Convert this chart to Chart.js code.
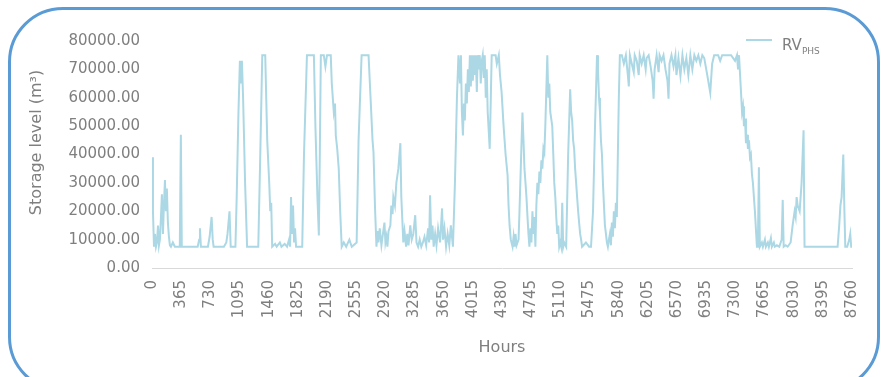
<!DOCTYPE html>
<html>
<head>
<meta charset="utf-8">
<script src="https://cdn.jsdelivr.net/npm/chart.js@4.4.1/dist/chart.umd.min.js"></script>
<style>
  html, body { margin: 0; padding: 0; background: #fff; }
  #wrap { position: relative; width: 882px; height: 377px; overflow: hidden; }
  #frame {
    position: absolute; left: 8px; top: 7px; width: 872px; height: 385px;
    box-sizing: border-box; border: 3px solid #5b9bd5; border-radius: 55px;
    pointer-events: none;
  }
  #chart { position: absolute; left: 0; top: 0; }
  #legend {
    position: absolute; left: 746px; top: 36px;
    font-family: "DejaVu Sans", sans-serif; color: #7f7f7f; font-size: 15px;
  }
  #legend .swatch {
    display: inline-block; width: 26px; height: 0; border-top: 2px solid #abd8e4;
    vertical-align: middle; margin-right: 10px; position: relative; top: -6px;
  }
  #legend sub { font-size: 9px; }
</style>
</head>
<body>
<div id="wrap">
  <canvas id="chart" width="882" height="377"></canvas>
  <div id="frame"></div>
  <div id="legend"><span class="swatch"></span>RV<sub>PHS</sub></div>
</div>
<script>
// hourly storage level (hour, m3)
const hours = [
  0, 12, 25, 37, 50, 62, 75, 87, 99, 112, 124, 137, 149, 162, 174, 186, 199, 212, 224, 237,
  261, 286, 348, 361, 373, 572, 590, 600, 612, 700, 721, 746, 760, 771, 900, 930, 945, 970, 985,
  1044, 1060, 1082, 1100, 1112, 1125, 1140, 1165, 1190, 1330, 1355, 1380, 1417, 1442, 1467, 1480,
  1492, 1504, 1540, 1560, 1600, 1620, 1660, 1690, 1715, 1728, 1740, 1752, 1765, 1778, 1790, 1803,
  1880, 1902, 1939, 2026, 2045, 2070, 2088, 2100, 2113, 2150, 2170, 2190, 2237, 2250, 2275, 2290,
  2300, 2318, 2337, 2355, 2374, 2400, 2430, 2470, 2500, 2561, 2585, 2623, 2710, 2735, 2760, 2772,
  2790, 2809, 2822, 2834, 2850, 2871, 2890, 2909, 2921, 2934, 2946, 2960, 2983, 2995, 3010, 3020,
  3040, 3058, 3083, 3108, 3120, 3132, 3145, 3160, 3180, 3195, 3210, 3232, 3250, 3270, 3294, 3310,
  3330, 3350, 3370, 3390, 3410, 3431, 3455, 3468, 3480, 3495, 3510, 3525, 3543, 3560, 3580, 3605,
  3630, 3642, 3660, 3680, 3700, 3720, 3740, 3766, 3791, 3816, 3835, 3854, 3866, 3878, 3891, 3903,
  3915, 3928, 3940, 3953, 3965, 3978, 3990, 4003, 4015, 4028, 4040, 4052, 4065, 4077, 4089, 4102,
  4114, 4127, 4139, 4152, 4164, 4177, 4189, 4201, 4226, 4240, 4251, 4300, 4315, 4340, 4355, 4375,
  4400, 4425, 4450, 4462, 4475, 4490, 4512, 4525, 4537, 4549, 4562, 4587, 4599, 4620, 4636, 4649,
  4661, 4674, 4686, 4699, 4711, 4723, 4736, 4748, 4761, 4773, 4786, 4798, 4810, 4823, 4835, 4848,
  4860, 4873, 4885, 4898, 4910, 4922, 4947, 4960, 4972, 4984, 5009, 5022, 5034, 5047, 5059, 5072,
  5084, 5096, 5109, 5121, 5134, 5146, 5158, 5183, 5208, 5233, 5245, 5258, 5270, 5283, 5295, 5308,
  5320, 5333, 5345, 5358, 5370, 5382, 5430, 5470, 5494, 5519, 5544, 5569, 5581, 5594, 5606, 5618,
  5631, 5643, 5656, 5668, 5681, 5693, 5705, 5718, 5730, 5743, 5755, 5768, 5780, 5793, 5805, 5817,
  5830, 5842, 5855, 5880, 5905, 5930, 5955, 5967, 5980, 6004, 6029, 6041, 6066, 6091, 6103, 6128,
  6153, 6178, 6190, 6215, 6240, 6265, 6277, 6290, 6315, 6340, 6352, 6377, 6401, 6426, 6451, 6464,
  6476, 6501, 6526, 6550, 6563, 6588, 6613, 6638, 6662, 6687, 6712, 6737, 6762, 6787, 6812, 6837,
  6862, 6887, 6911, 6936, 6961, 6986, 7010, 7035, 7085, 7110, 7135, 7209, 7247, 7296, 7321, 7334,
  7346, 7371, 7384, 7396, 7408, 7421, 7433, 7446, 7458, 7471, 7483, 7495, 7508, 7520, 7545, 7570,
  7582, 7595, 7607, 7632, 7645, 7670, 7682, 7707, 7720, 7745, 7757, 7782, 7794, 7820, 7850, 7880,
  7893, 7905, 7930, 7955, 7992, 8017, 8042, 8055, 8067, 8080, 8105, 8129, 8154, 8166, 8179, 8580,
  8600, 8615, 8630, 8651, 8665, 8676, 8700, 8726, 8738, 8750, 8760
];
const level = [
  39000, 20000, 7500, 12000, 7500, 9000, 15000, 8000, 10000, 18000, 26000, 12000, 22000, 31000, 20000, 28000, 16000, 11000, 8000, 7500,
  9000, 7500, 7500, 47000, 7500, 7500, 10000, 14000, 7500, 7500, 11000, 18000, 10000, 7500, 7500, 9000, 12000, 20000, 7500,
  7500, 25000, 55000, 73000, 65000, 73000, 60000, 30000, 7500, 7500, 40000, 75000, 75000, 45000, 30000, 20000,
  23000, 7500, 8500, 7500, 9000, 7500, 8500, 7500, 10000, 7500, 25000, 12000, 22000, 9000, 14000, 7500,
  7500, 40000, 75000, 75000, 50000, 25000, 11500, 40000, 75000, 75000, 71000, 75000, 75000, 65000, 55000, 58000,
  46700, 42000, 35000, 20000, 7500, 9000, 7500, 10000, 7500, 9000, 45000, 75000, 75000, 60000, 45000, 40700,
  22000, 7500, 13000, 9000, 14000, 8000, 12000, 16000, 9000, 11000, 7500, 13000, 15000, 22000, 19000, 25000,
  22000, 30000, 35000, 44000, 25000, 17500, 9000, 13000, 7500, 12000, 8000, 15000, 10000, 12000, 18600, 9000,
  7500, 10000, 7500, 9000, 11000, 8000, 14000, 9000, 25600, 10000, 15000, 7500, 12000, 8000, 14000, 9000,
  21000, 10000, 14000, 7500, 12000, 8000, 15000, 7500, 30000, 60000, 75000, 65000, 75000, 55000, 46700, 58000,
  52000, 65000, 58000, 70000, 62000, 75000, 64000, 75000, 66000, 75000, 68000, 75000, 62000, 75000, 70000, 75000,
  65000, 73000, 75000, 67000, 75000, 60000, 70000, 55000, 42000, 60000, 75000, 75000, 72000, 75000, 68000, 62000,
  50000, 40000, 32600, 22000, 15000, 10000, 7500, 11000, 7500, 12000, 8000, 10000, 20000, 40000, 54800, 45000,
  35000, 30000, 25000, 18000, 12000, 7500, 14000, 9000, 20000, 12000, 18000, 7500, 22000, 30000, 26000, 34000,
  30000, 38000, 35000, 42000, 40700, 50000, 75000, 60000, 65000, 55000, 50000, 40000, 30000, 25000, 18000, 12000,
  15000, 7500, 9000, 7500, 23000, 7500, 9000, 7500, 40000, 63000, 55000, 52000, 45000, 42000, 35000, 30000,
  25000, 20000, 16000, 12000, 10000, 7500, 9000, 7500, 7500, 20000, 50000, 75000, 70000, 60000, 55000, 45000,
  40000, 30000, 22000, 15000, 12000, 9000, 7500, 10000, 12000, 8000, 16000, 11000, 20000, 14000, 23000, 18000,
  40000, 60000, 75000, 75000, 72000, 75000, 68000, 64000, 75000, 72000, 69000, 75000, 73000, 68000, 75000, 72000,
  75000, 70000, 74000, 75000, 71000, 66000, 59700, 70000, 75000, 69000, 75000, 73000, 75000, 70000, 66000, 59700,
  72000, 75000, 71000, 75000, 68000, 74000, 67700, 75000, 70000, 74000, 68000, 75000, 70000, 75000, 73000, 75000,
  72000, 75000, 74000, 70000, 66000, 61800, 72000, 75000, 75000, 73000, 75000, 75000, 75000, 73000, 75000, 70000,
  75000, 62000, 55000, 57000, 50000, 52700, 44000, 47000, 42000, 45000, 39000, 40000, 33000, 30000, 20000, 7500,
  7500, 35500, 7500, 9000, 7500, 10000, 7500, 9000, 7500, 10500, 7500, 9000, 7500, 8000, 7500, 10000,
  24000, 7500, 8000, 7500, 9000, 15000, 20000, 18000, 25000, 22000, 20000, 30000, 48500, 7500, 7500, 7500,
  15000, 22000, 25000, 40000, 20000, 7500, 7500, 10000, 12000, 7500, 7500
];
const xTickValues = [0, 365, 730, 1095, 1460, 1825, 2190, 2555, 2920, 3285, 3650, 4015, 4380,
  4745, 5110, 5475, 5840, 6205, 6570, 6935, 7300, 7665, 8030, 8395, 8760];
const yTickValues = [0, 10000, 20000, 30000, 40000, 50000, 60000, 70000, 80000];

const tickColor = '#7f7f7f';
const tickFont = { family: 'DejaVu Sans', size: 15 };

new Chart(document.getElementById('chart'), {
  type: 'line',
  data: {
    datasets: [{
      label: 'RV PHS',
      data: hours.map((h, i) => ({ x: h, y: level[i] })),
      borderColor: '#abd8e4',
      borderWidth: 2,
      pointRadius: 0,
      tension: 0,
      fill: false
    }]
  },
  options: {
    responsive: false,
    animation: false,
    devicePixelRatio: 1,
    layout: { padding: { left: 0, right: 25, top: 41, bottom: 0 } },
    plugins: { legend: { display: false }, tooltip: { enabled: false } },
    scales: {
      x: {
        type: 'linear',
        min: 0,
        max: 8760,
        afterBuildTicks: s => { s.ticks = xTickValues.map(v => ({ value: v })); },
        afterFit: s => { s.height = 109; },
        ticks: {
          autoSkip: false, maxRotation: 90, minRotation: 90, padding: 12,
          color: tickColor, font: tickFont, callback: v => String(v)
        },
        grid: { display: false, drawTicks: false },
        border: { color: '#d9d9d9', width: 1 },
        title: {
          display: true, text: 'Hours', color: tickColor,
          font: { family: 'DejaVu Sans', size: 16 }, padding: { top: 4, bottom: 20 }
        }
      },
      y: {
        min: 0,
        max: 80000,
        afterBuildTicks: s => { s.ticks = yTickValues.map(v => ({ value: v })); },
        afterFit: s => { s.width = 152; },
        ticks: { padding: 12, color: tickColor, font: tickFont, callback: v => v.toFixed(2) },
        grid: { display: false, drawTicks: false },
        border: { display: false },
        title: {
          display: true, text: '\u2002\u2002\u2002Storage level (m³)', color: tickColor,
          font: { family: 'DejaVu Sans', size: 16 }, padding: { top: 27, bottom: 0 }
        }
      }
    }
  }
});
</script>
</body>
</html>
